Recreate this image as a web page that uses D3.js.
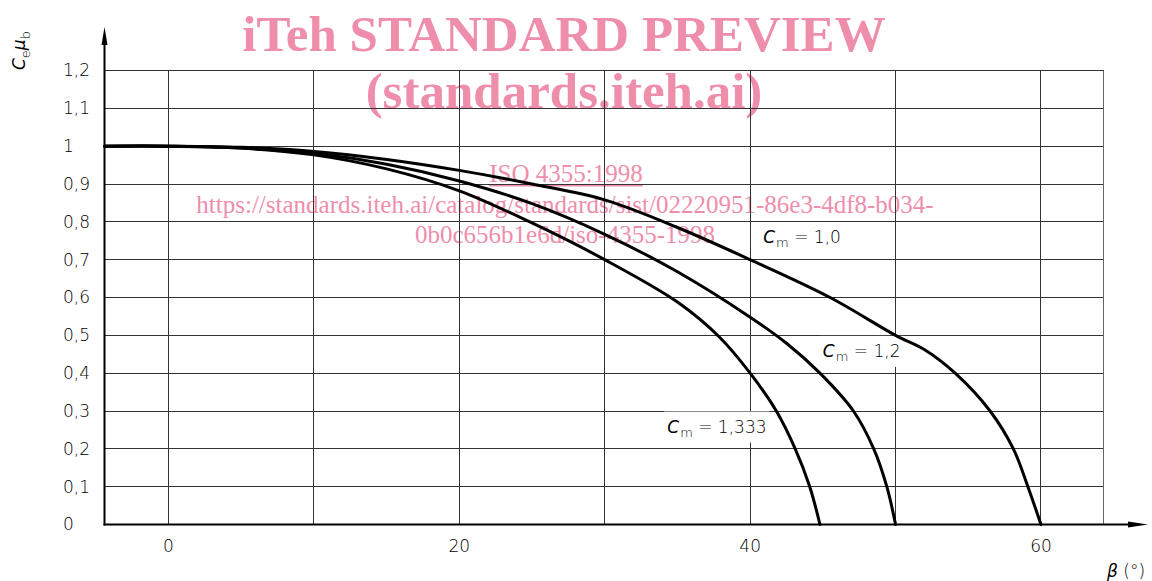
<!DOCTYPE html>
<html>
<head>
<meta charset="utf-8">
<script src="https://cdn.jsdelivr.net/npm/d3@7"></script>
<style>
  html, body { margin: 0; padding: 0; background: #fff; }
  svg { display: block; }
</style>
</head>
<body>
<svg id="chart" width="1152" height="581"></svg>
<script>
// Angle β (degrees): grid every 10°, labels every 20°
const betaGrid = [0, 10, 20, 30, 40, 50, 60];
const betaLabels = [0, 20, 40, 60];

// Ce·μb ratio: grid every 0.1
const ratioGrid = [0, 0.1, 0.2, 0.3, 0.4, 0.5, 0.6, 0.7, 0.8, 0.9, 1.0, 1.1, 1.2];
const ratioLabels = ["0", "0,1", "0,2", "0,3", "0,4", "0,5", "0,6", "0,7", "0,8", "0,9", "1", "1,1", "1,2"];

// Curves [β, Ce·μb] for each Cm
const curveCm10 = [[-4.4, 1], [0, 1], [5, 0.997], [10, 0.986], [15, 0.965], [20, 0.936], [25, 0.9],
  [30, 0.858], [35, 0.785], [40, 0.70], [45.5, 0.60], [50, 0.50], [52, 0.462], [54.1, 0.40],
  [56.5, 0.30], [58.1, 0.20], [59.1, 0.10], [60, 0]];
const curveCm12 = [[-4.4, 1], [0, 1], [5, 0.995], [10, 0.981], [15, 0.952], [20, 0.908], [25, 0.848],
  [30, 0.767], [35, 0.668], [40, 0.548], [42.5, 0.479], [44.8, 0.40], [47.1, 0.30], [48.5, 0.20],
  [49.4, 0.10], [50, 0]];
const curveCm1333 = [[-4.4, 1], [0, 1], [5, 0.995], [10, 0.977], [15, 0.94], [20, 0.882], [25, 0.797],
  [30, 0.70], [35, 0.588], [37.9, 0.495], [40, 0.40], [41.8, 0.30], [43.1, 0.20], [44.1, 0.10], [44.8, 0]];

const seriesNames = ["1,0", "1,2", "1,333"];

// Preview stamp lines
const stampTitle = ["iTeh STANDARD PREVIEW", "(standards.iteh.ai)"];
const stampRef = "ISO 4355:1998";
const stampUrl = ["https://standards.iteh.ai/catalog/standards/sist/02220951-86e3-4df8-b034-",
  "0b0c656b1e6d/iso-4355-1998"];

const svg = d3.select("#chart");
const x = d3.scaleLinear().domain([-4.4, 64.3]).range([104.5, 1103.5]);
const y = d3.scaleLinear().domain([0, 1.2]).range([524.5, 70.5]);

const sans = "'DejaVu Sans', sans-serif";
const pink = "#ee8eab";

// Stamp (behind the drawing)
const stamp = svg.append("g").attr("fill", pink).attr("font-family", "'Liberation Serif', serif")
  .attr("text-anchor", "middle");
stamp.selectAll("text.t").data(stampTitle).join("text")
  .attr("class", "t")
  .attr("x", 564).attr("y", (d, i) => 51 + i * 57)
  .attr("font-size", 51).attr("font-weight", "bold").text(d => d);
stamp.append("text").attr("x", 566).attr("y", 182).attr("font-size", 25)
  .attr("text-decoration", "underline").text(stampRef);
stamp.selectAll("text.u").data(stampUrl).join("text")
  .attr("class", "u")
  .attr("x", 565)
  .attr("y", (d, i) => 213 + i * 30)
  .attr("font-size", 25).text(d => d);

// Grid
const grid = svg.append("g").attr("stroke", "#333").attr("stroke-width", 1).attr("shape-rendering", "crispEdges");
grid.selectAll("line.h").data(ratioGrid.filter(v => v > 0)).join("line")
  .attr("class", "h")
  .attr("x1", x.range()[0]).attr("x2", x.range()[1])
  .attr("y1", d => y(d)).attr("y2", d => y(d));
grid.selectAll("line.v").data(betaGrid).join("line")
  .attr("class", "v")
  .attr("x1", d => x(d)).attr("x2", d => x(d))
  .attr("y1", y(0)).attr("y2", y(1.2));
grid.append("line")
  .attr("x1", x.range()[1]).attr("x2", x.range()[1])
  .attr("y1", y(0)).attr("y2", y(1.2)).attr("stroke", "#666");

// Curve labels: position as [β, ratio] at the label's baseline start
const labelPos = [[40.9, 0.743], [45.0, 0.443], [34.3, 0.243]];
const knockouts = svg.append("g").attr("fill", "#fff");

// Curves
const line = d3.line().x(d => x(d[0])).y(d => y(d[1])).curve(d3.curveCatmullRom.alpha(0.5));
svg.append("g").attr("fill", "none").attr("stroke", "#000").attr("stroke-width", 3)
  .attr("stroke-linejoin", "round").attr("stroke-linecap", "round")
  .selectAll("path").data([curveCm10, curveCm12, curveCm1333]).join("path")
  .attr("d", line);

const labels = svg.append("g").attr("font-family", sans).attr("font-size", 17).attr("font-weight", 200);
const lt = labels.selectAll("text").data(seriesNames).join("text")
  .attr("transform", (d, i) => `translate(${x(labelPos[i][0])},${y(labelPos[i][1])})`);
lt.append("tspan").attr("font-style", "italic").text("C");
lt.append("tspan").attr("font-size", 13).attr("dy", 4).attr("dx", 1).text("m");
lt.append("tspan").attr("dy", -4).text(d => " = " + d);
lt.each(function (d, i) {
  const b = this.getBBox();
  knockouts.append("rect")
    .attr("x", x(labelPos[i][0]) + b.x - 3).attr("y", y(labelPos[i][1]) + b.y - 5)
    .attr("width", b.width + 6).attr("height", b.height + 8);
});

// Axes with arrow heads
const axes = svg.append("g").attr("stroke", "#000").attr("stroke-width", 2);
axes.append("line").attr("x1", x.range()[0]).attr("x2", x.range()[0]).attr("y1", y(0) + 1).attr("y2", 40);
axes.append("line").attr("x1", x.range()[0] - 1).attr("x2", 1135).attr("y1", y(0)).attr("y2", y(0));
svg.append("path").attr("fill", "#000")
  .attr("d", `M${x.range()[0]},27 L${x.range()[0] - 3},45 L${x.range()[0] + 3},45 Z`);
svg.append("path").attr("fill", "#000")
  .attr("d", `M1148,${y(0)} L1128,${y(0) - 3} L1128,${y(0) + 3} Z`);

// Tick labels
const ticks = svg.append("g").attr("font-family", sans).attr("font-size", 17).attr("font-weight", 200).attr("fill", "#000");
ticks.selectAll("text.y").data(ratioGrid).join("text")
  .attr("class", "y").attr("x", 63).attr("y", d => y(d)).attr("dy", "0.35em")
  .text((d, i) => ratioLabels[i]);
ticks.selectAll("text.x").data(betaLabels).join("text")
  .attr("class", "x").attr("x", d => x(d)).attr("y", 552).attr("text-anchor", "middle")
  .text(d => d);

// Axis titles
const yt = ticks.append("text").attr("transform", "translate(25,70) rotate(-90)");
yt.append("tspan").attr("font-style", "italic").text("C");
yt.append("tspan").attr("font-size", 13).attr("dy", 5).text("e");
yt.append("tspan").attr("font-style", "italic").attr("dy", -5).text("μ");
yt.append("tspan").attr("font-size", 13).attr("dy", 5).text("b");

const xt = ticks.append("text").attr("x", 1107).attr("y", 577);
xt.append("tspan").attr("font-style", "italic").text("β");
xt.append("tspan").text(" (°)");
</script>
</body>
</html>
